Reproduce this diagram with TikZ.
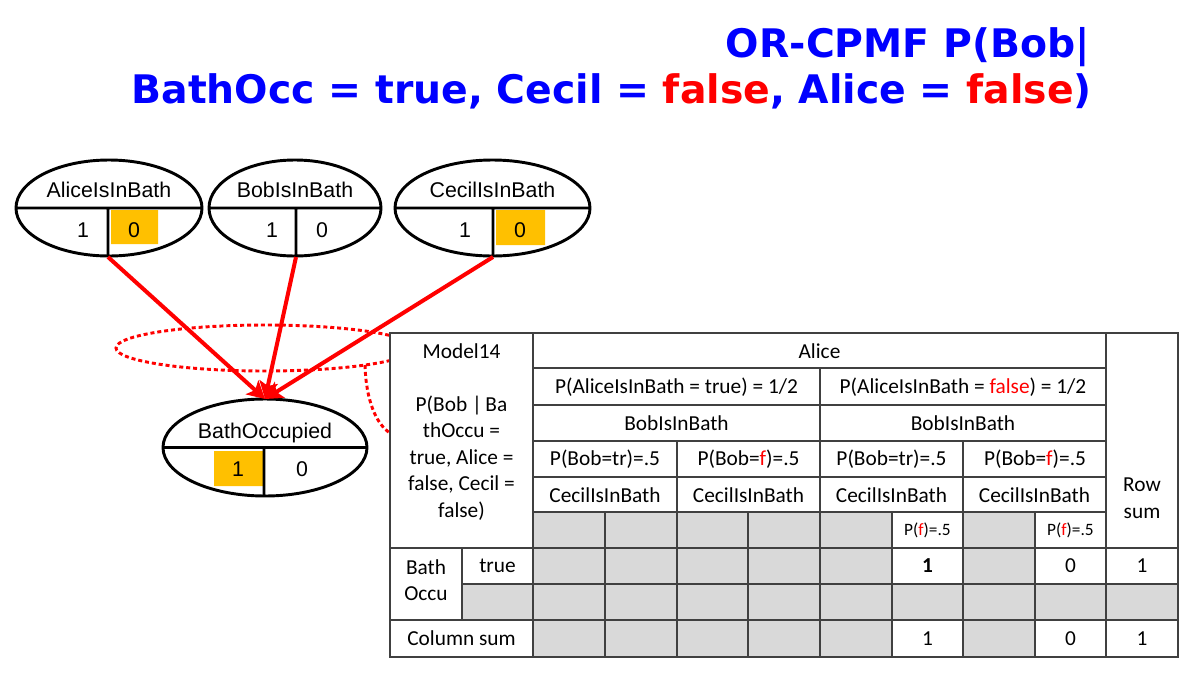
\documentclass[tikz,border=0pt]{standalone}
\usepackage{fontspec}
\setmainfont{Liberation Sans}
\newfontfamily\tabfont{Carlito}
\newfontfamily\titlefont{DejaVu Sans}
\usetikzlibrary{arrows.meta}
\definecolor{occgold}{HTML}{FFC000}
\definecolor{cellgray}{HTML}{D9D9D9}
\definecolor{gridgray}{HTML}{404040}
\tikzset{
  split/.style={line width=2.2pt},
  vartext/.style={anchor=base, inner sep=0pt, font=\fontsize{16}{19}\selectfont},
  cpt/.style={inner sep=0pt, align=center, font=\tabfont\fontsize{16}{19.9}\selectfont},
  cptsmall/.style={inner sep=0pt, font=\tabfont\fontsize{13}{16}\selectfont},
  influence/.style={red, line width=3pt, -{Stealth[length=13pt,width=14pt,inset=3pt]}},
  lasso/.style={red, line width=2.2pt, dash pattern=on 3pt off 2.2pt},
  headline/.style={anchor=base east, inner sep=0pt, blue, font=\titlefont\bfseries\fontsize{29.5}{35}\selectfont}
}
\begin{document}
\begin{tikzpicture}[x=0.75pt,y=-0.75pt]
  \useasboundingbox (0,0) rectangle (1200,686);

      % title
      \node[headline] (headA) at (1090,57) {OR-CPMF P(Bob|};
      \node[headline] (headB) at (1092,103) {BathOcc = true, Cecil = {\color{red}false}, Alice = {\color{red}false})};

      % dotted lasso round the arcs, tied to the table
      \draw[lasso] (265,348) ellipse [x radius=149, y radius=23];
      \coordinate (lassofoot) at (365,365);
      \coordinate (modelcell) at (390,433);
      \draw[lasso] (lassofoot) .. controls (366,400) and (376,424) .. (modelcell);

      % table
      \fill[white] (390,333) rectangle (1178,657);
      \fill[cellgray] (533,512) rectangle (892,657) (963,512) rectangle (1035,657) (462,584) rectangle (1178,620);
      \begin{scope}[gridgray, line width=1.1pt]
        \draw (390,333) rectangle (1178,657);
        \draw (533,333) -- (533,657) (1106,333) -- (1106,657) (820,368) -- (820,657) (462,548) -- (462,620);
        \foreach \y in {368,405,441,477,512} \draw (533,\y) -- (1106,\y);
        \draw (390,548) -- (1178,548) (462,584) -- (1178,584) (390,620) -- (1178,620);
        \foreach \x in {677,963} \draw (\x,441) -- (\x,657);
        \foreach \x in {605,748,892,1035} \draw (\x,512) -- (\x,657);
      \end{scope}

      \node[cpt] (model) at (461.5,351) {Model14};
      \node[cpt] (query) at (461.5,458) {P(Bob |\,Ba\\thOccu =\\true, Alice =\\false, Cecil =\\false)};
      \node[cpt] (alicehead) at (819.5,351) {Alice};
      \node[cpt] (alicet) at (676.5,387) {P(AliceIsInBath = true) = 1/2};
      \node[cpt] (alicef) at (963,387) {P(AliceIsInBath = {\color{red}false}) = 1/2};
      \node[cpt] (bobheadA) at (676.5,423) {BobIsInBath};
      \node[cpt] (bobheadB) at (963,423) {BobIsInBath};
      \foreach \x/\n in {605/a,891.5/b} {
        \node[cpt] (bobt\n) at (\x,459) {P(Bob=tr)=.5};
        \node[cpt] (bobf\n) at (\x+143.5,459) {P(Bob={\color{red}f})=.5};
      }
      \foreach \x/\n in {605/a,748.5/b,891.5/c,1034.5/d}
        \node[cpt] (cecil\n) at (\x,495) {CecilIsInBath};
      \node[cptsmall] (cecilfa) at (927.5,530) {P({\color{red}f})=.5};
      \node[cptsmall] (cecilfb) at (1070.5,530) {P({\color{red}f})=.5};
      \node[cpt] (rowsum) at (1142,498) {Row\\sum};
      \node[cpt] (bathocc) at (426,580) {Bath\\Occu};
      \node[cpt] (true) at (497.5,566) {true};
      \node[cpt] (pone) at (927.5,566) {\bfseries 1};
      \node[cpt] (pzero) at (1070.5,566) {0};
      \node[cpt] (rone) at (1142,566) {1};
      \node[cpt] (colsum) at (461.5,638.5) {Column sum};
      \node[cpt] (cone) at (927.5,638.5) {1};
      \node[cpt] (czero) at (1070.5,638.5) {0};
      \node[cpt] (call) at (1142,638.5) {1};

      % evidence marks
      \fill[occgold] (111,210) rectangle (158,244) (496,210) rectangle (545,245) (214,451) rectangle (263,486);

      % Bayes net nodes
      \draw[split] (109,208) ellipse [x radius=93, y radius=48] (16,208) -- (202,208) (108,208) -- (108,256);
      \draw[split] (295,208) ellipse [x radius=86, y radius=48] (209,208) -- (381,208) (296,208) -- (296,256);
      \draw[split] (492.5,208) ellipse [x radius=97.5, y radius=48] (395,208) -- (590,208) (493,208) -- (493,256);
      \draw[split] (265,447.5) ellipse [x radius=102, y radius=48.5] (163,447.5) -- (367,447.5) (264,447.5) -- (264,496);
      \coordinate (alicefoot) at (108,257);
      \coordinate (bobfoot) at (296,257);
      \coordinate (cecilfoot) at (493,257);
      \coordinate (bathtop) at (265,399);

      \node[vartext] (alicename) at (109,197) {AliceIsInBath};
      \node[vartext] (alice1) at (83,237) {1};
      \node[vartext] (alice0) at (134,237) {0};
      \node[vartext] (bobname) at (295,197) {BobIsInBath};
      \node[vartext] (bob1) at (272,237) {1};
      \node[vartext] (bob0) at (322,237) {0};
      \node[vartext] (cecilname) at (492.5,197) {CecilIsInBath};
      \node[vartext] (cecil1) at (465,237) {1};
      \node[vartext] (cecil0) at (520,237) {0};
      \node[vartext] (bathname) at (265,438) {BathOccupied};
      \node[vartext] (bath1) at (238,476) {1};
      \node[vartext] (bath0) at (302,476) {0};

      % arcs
      \foreach \v in {alice,bob,cecil}
        \draw[influence] (\v foot) -- (bathtop);

\end{tikzpicture}
\end{document}
